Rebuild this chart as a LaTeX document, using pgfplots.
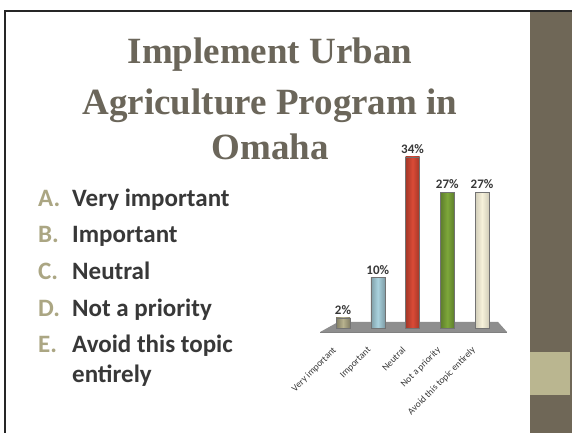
\documentclass[border=0pt]{standalone}
\usepackage{fontspec}
\setmainfont{Carlito}
\newfontfamily\titlefont{Liberation Serif}
\usepackage{pgfplots}
\pgfplotsset{compat=1.18}
\definecolor{titlegray}{HTML}{6B665A}
\definecolor{letter}{HTML}{ABA683}
\definecolor{txt}{HTML}{383838}
\definecolor{stripe}{HTML}{6F6757}
\definecolor{band}{HTML}{BAB690}
\definecolor{floorgray}{HTML}{8E8E8E}
\definecolor{cA}{HTML}{B8B28E}
\definecolor{cB}{HTML}{A9D2DE}
\definecolor{cC}{HTML}{DA4A36}
\definecolor{cD}{HTML}{7DA73A}
\definecolor{cE}{HTML}{F6F1DA}
\begin{document}
\begin{tikzpicture}[x=1pt,y=1pt]
\useasboundingbox (0,0) rectangle (572,433);
\fill[white] (0,0) rectangle (572,433);
\fill[stripe] (530,0) rectangle (572,422);
\fill[band] (530,38) rectangle (570,81);
\draw[black!85, line width=1.3pt] (5,0) -- (5,422) -- (572,422);
% title
\begin{scope}[every node/.style={font=\titlefont\bfseries\fontsize{37}{46}\selectfont, text=titlegray, anchor=base}]
\node at (270,369) {Implement Urban};
\node at (270,318) {Agriculture Program in};
\node at (270,273) {Omaha};
\end{scope}
% list
\begin{scope}[every node/.style={font=\bfseries\fontsize{25}{29}\selectfont, anchor=base west, inner sep=0pt}]
\node[text=letter] at (38,226) {A.};
\node[text=letter] at (38,190) {B.};
\node[text=letter] at (38,153) {C.};
\node[text=letter] at (38,116) {D.};
\node[text=letter] at (38,80) {E.};
\node[text=txt] at (72,226) {Very important};
\node[text=txt] at (72,190) {Important};
\node[text=txt] at (72,153) {Neutral};
\node[text=txt] at (72,116) {Not a priority};
\node[text=txt] at (72,80) {Avoid this topic};
\node[text=txt] at (72,50) {entirely};
\end{scope}
\begin{axis}[
  at={(318.7pt,105pt)}, anchor=south west,
  x=34.75pt, y=5.03pt,
  xmin=-0.7, xmax=4.7, ymin=0, ymax=40,
  axis line style={draw=none},
  major tick length=0pt,
  ytick=\empty,
  xtick={0,1,2,3,4},
  xticklabels={Very important, Important, Neutral, Not a priority, Avoid this topic entirely},
  xticklabel style={xshift=-11pt, yshift=-18pt, rotate=45, anchor=north east, font=\fontsize{9.5}{11}\selectfont, text=txt, inner sep=0pt},
  clip=false,
  ybar, bar width=14pt, bar shift=0pt,
  /pgf/number format/assume math mode=true,
  nodes near coords={\pgfmathprintnumber{\pgfplotspointmeta}\%},
  every node near coord/.append style={font=\bfseries\fontsize{13}{15}\selectfont, text=txt},
]
\fill[floorgray] (axis cs:-0.66,-0.8) -- (axis cs:4.72,-0.8) -- (axis cs:4.46,1.2) -- (axis cs:-0.14,1.2) -- cycle;
\draw[black!50] (axis cs:-0.66,-0.8) -- (axis cs:4.72,-0.8);
\addplot[draw=black!55, left color=cA!70!black, right color=cA!70!black, middle color=cA] coordinates {(0,2)};
\addplot[draw=black!55, left color=cB!75!black, right color=cB!75!black, middle color=cB] coordinates {(1,10)};
\addplot[draw=black!55, left color=cC!75!black, right color=cC!75!black, middle color=cC] coordinates {(2,34)};
\addplot[draw=black!55, left color=cD!75!black, right color=cD!75!black, middle color=cD] coordinates {(3,27)};
\addplot[draw=black!55, left color=cE!85!black, right color=cE!85!black, middle color=cE] coordinates {(4,27)};
\end{axis}
\end{tikzpicture}
\end{document}
